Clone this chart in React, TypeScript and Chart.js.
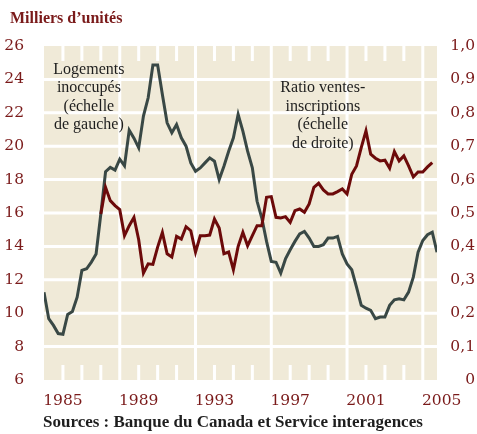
import { useEffect, useRef } from 'react';
import { Chart, registerables } from 'chart.js';

Chart.register(...registerables);

// Quarterly data, first quarter of 1984 onward (thousands of units, left scale)
const VACANT_START_YEAR = 1984;
const vacantHomes = [
  11.26, 9.67, 9.27, 8.78, 8.74, 9.93, 10.1, 10.96, 12.56, 12.66,
  13.06, 13.55, 15.94, 18.47, 18.73, 18.57, 19.22, 18.83, 20.96, 20.48,
  19.9, 21.8, 22.9, 24.86, 24.86, 23.1, 21.4, 20.8, 21.3, 20.5,
  20.0, 19.0, 18.5, 18.7, 19.0, 19.3, 19.1, 18.0, 18.8, 19.7,
  20.5, 21.9, 20.9, 19.7, 18.7, 16.7, 15.7, 14.3, 13.1, 13.05,
  12.4, 13.25, 13.8, 14.3, 14.75, 14.9, 14.5, 14.0, 14.0, 14.1,
  14.5, 14.5, 14.6, 13.55, 12.95, 12.6, 11.56, 10.47, 10.3, 10.17,
  9.67, 9.77, 9.77, 10.47, 10.8, 10.87, 10.8, 11.26, 12.16, 13.65,
  14.35, 14.7, 14.85, 13.65,
];

// Quarterly sales-to-listings ratio from the first quarter of 1987 (right scale)
const RATIO_START_YEAR = 1987;
const salesToListings = [
  0.497, 0.577, 0.537, 0.522, 0.51, 0.432, 0.462, 0.487, 0.42, 0.32,
  0.348, 0.346, 0.398, 0.442, 0.378, 0.368, 0.43, 0.422, 0.459, 0.447,
  0.383, 0.432, 0.432, 0.434, 0.482, 0.455, 0.378, 0.383, 0.33, 0.4,
  0.442, 0.402, 0.432, 0.462, 0.462, 0.547, 0.549, 0.487, 0.485, 0.489,
  0.472, 0.507, 0.512, 0.502, 0.527, 0.577, 0.589, 0.569, 0.557, 0.557,
  0.564, 0.572, 0.557, 0.616, 0.641, 0.696, 0.746, 0.676, 0.664, 0.656,
  0.658, 0.634, 0.684, 0.656, 0.671, 0.641, 0.608, 0.623, 0.623, 0.638,
  0.651,
];

const xTickYears = [1985, 1989, 1993, 1997, 2001, 2005];
const majorGridYears = [1988, 1992, 1996, 2000, 2004];
const minorTickYears = [
  1985, 1986, 1987, 1989, 1990, 1991, 1993, 1994, 1995, 1997, 1998, 1999,
  2001, 2002, 2003,
];
const leftGridValues = [8, 10, 12, 14, 16, 18, 20, 22, 24];

const titleText = 'Milliers d’unités';
const sourceText = 'Sources : Banque du Canada et Service interagences';
const leftNoteLines = ['Logements', 'inoccupés', '(échelle', 'de gauche)'];
const rightNoteLines = ['Ratio ventes-', 'inscriptions', '(échelle', 'de droite)'];
// anchors of the notes in data units: [year, left-scale value]
const leftNoteAnchor = [1986.37, 24.6];
const rightNoteAnchor = [1998.72, 23.47];

const BEIGE = '#f0ead8';
const MAROON = '#7a1a1a';
const RED_LINE = '#6c0a0a';
const DARK_LINE = '#394845';
const TEXT_DARK = '#1e1e1e';

const decor = {
  id: 'decor',
  beforeDatasetsDraw(chart: any) {
    const { ctx, chartArea: a, scales } = chart;
    const x = scales.x;
    const yL = scales.yL;
    ctx.save();
    ctx.fillStyle = BEIGE;
    ctx.fillRect(a.left, a.top, a.right - a.left, a.bottom - a.top);
    ctx.strokeStyle = '#ffffff';
    ctx.lineWidth = 3;
    ctx.beginPath();
    for (const v of leftGridValues) {
      const py = yL.getPixelForValue(v);
      ctx.moveTo(a.left, py);
      ctx.lineTo(a.right, py);
    }
    for (const yr of majorGridYears) {
      const px = x.getPixelForValue(yr);
      ctx.moveTo(px, a.top);
      ctx.lineTo(px, a.bottom);
    }
    for (const yr of minorTickYears) {
      const px = x.getPixelForValue(yr);
      ctx.moveTo(px, a.top);
      ctx.lineTo(px, a.top + 15);
      ctx.moveTo(px, a.bottom - 15);
      ctx.lineTo(px, a.bottom);
    }
    ctx.stroke();

    ctx.fillStyle = TEXT_DARK;
    ctx.font = '16px "Liberation Serif"';
    ctx.textAlign = 'center';
    ctx.textBaseline = 'middle';
    const drawNote = (lines: string[], anchor: number[]) => {
      const cx = x.getPixelForValue(anchor[0]);
      const cy = yL.getPixelForValue(anchor[1]);
      lines.forEach((t, i) => ctx.fillText(t, cx, cy + i * 18.5));
    };
    drawNote(leftNoteLines, leftNoteAnchor);
    drawNote(rightNoteLines, rightNoteAnchor);
    ctx.restore();
  },
  afterDraw(chart: any) {
    const { ctx } = chart;
    ctx.save();
    ctx.textAlign = 'left';
    ctx.textBaseline = 'alphabetic';
    ctx.fillStyle = MAROON;
    ctx.font = 'bold 16px "Liberation Serif"';
    ctx.fillText(titleText, 10, 23);
    ctx.fillStyle = TEXT_DARK;
    ctx.font = 'bold 17px "Liberation Serif"';
    ctx.fillText(sourceText, 43, 427);
    ctx.restore();
  },
};

export default function App() {
  const ref = useRef<HTMLCanvasElement | null>(null);

  useEffect(() => {
    if (!ref.current) return;
    const tickFont = { family: '"DejaVu Serif"', size: 15.5 };
    const chart = new Chart(ref.current, {
      type: 'line',
      data: {
        datasets: [
          {
            label: 'Ratio ventes-inscriptions',
            data: salesToListings.map((v, i) => ({ x: RATIO_START_YEAR + i / 4, y: v })),
            yAxisID: 'yR',
            borderColor: RED_LINE,
            borderWidth: 3,
            pointRadius: 0,
            tension: 0,
          },
          {
            label: 'Logements inoccupés',
            data: vacantHomes.map((v, i) => ({ x: VACANT_START_YEAR + i / 4, y: v })),
            yAxisID: 'yL',
            borderColor: DARK_LINE,
            borderWidth: 3,
            pointRadius: 0,
            tension: 0,
          },
        ],
      },
      options: {
        responsive: false,
        animation: false,
        layout: { padding: { top: 46, right: 2, left: 0, bottom: 0 } },
        plugins: {
          legend: { display: false },
          tooltip: { enabled: false },
        },
        scales: {
          x: {
            type: 'linear',
            min: 1984,
            max: 2004.75,
            grid: { display: false },
            border: { display: false },
            afterBuildTicks: (s: any) => {
              s.ticks = xTickYears.map((v) => ({ value: v }));
            },
            afterFit: (s: any) => {
              s.height = 54;
            },
            ticks: {
              autoSkip: false,
              maxRotation: 0,
              padding: 4,
              color: MAROON,
              font: tickFont,
              callback: (v: any) => String(v),
            },
          },
          yL: {
            type: 'linear',
            position: 'left',
            min: 6,
            max: 26,
            grid: { display: false },
            border: { display: false },
            afterFit: (s: any) => {
              s.width = 44;
            },
            ticks: {
              stepSize: 2,
              padding: 12,
              color: MAROON,
              font: tickFont,
            },
          },
          yR: {
            type: 'linear',
            position: 'right',
            min: 0,
            max: 1,
            grid: { display: false },
            border: { display: false },
            afterFit: (s: any) => {
              s.width = 38;
            },
            ticks: {
              stepSize: 0.1,
              crossAlign: 'far',
              color: MAROON,
              font: tickFont,
              callback: (v: any) =>
                Number(v) === 0 ? '0' : Number(v).toFixed(1).replace('.', ','),
            },
          },
        },
      },
      plugins: [decor],
    } as any);
    return () => chart.destroy();
  }, []);

  return (
    <canvas
      ref={ref}
      width={477}
      height={434}
      style={{ position: 'fixed', left: 0, top: 0, display: 'block' }}
    />
  );
}
